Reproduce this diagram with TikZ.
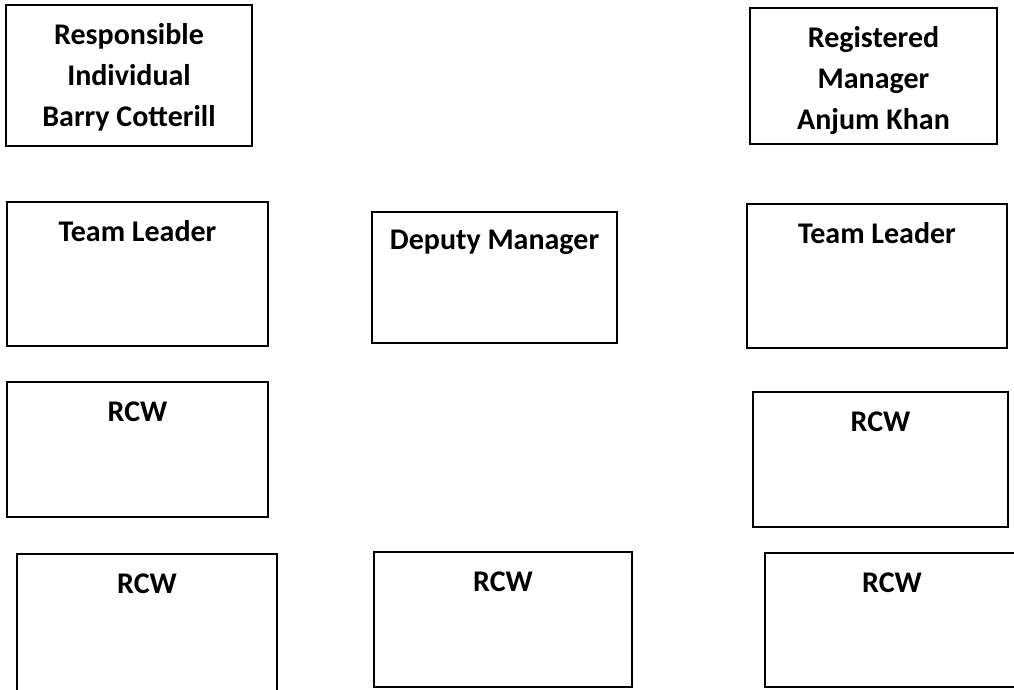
\documentclass[tikz,border=0pt]{standalone}
\usepackage{fontspec}
\setmainfont{Carlito}
\usepackage{tikz}
\usetikzlibrary{positioning}

\begin{document}
\begin{tikzpicture}[x=1pt, y=-1pt]
    \tikzstyle{box} = [draw, line width=1.6pt, rectangle, inner sep=0pt]
    \tikzstyle{title} = [inner sep=0pt, anchor=north, align=center, font=\fontsize{30}{41}\selectfont\bfseries]

    \useasboundingbox (0,0) rectangle (1014,689);
    \clip (0,0) rectangle (1014,689);

    % Boxes
    \node [box, minimum width=246pt, minimum height=141pt] (resp) at (129,75.5) {};
    \node [box, minimum width=247pt, minimum height=136pt] (regman) at (873.5,76) {};
    \node [box, minimum width=261pt, minimum height=144pt] (leader_l) at (137.5,274) {};
    \node [box, minimum width=245pt, minimum height=131pt] (deputy) at (494.5,277.5) {};
    \node [box, minimum width=260pt, minimum height=144pt] (leader_r) at (877,276) {};
    \node [box, minimum width=261pt, minimum height=135pt] (rcw_l) at (137.5,449.5) {};
    \node [box, minimum width=255pt, minimum height=135pt] (rcw_r) at (880.5,459.5) {};
    \node [box, minimum width=260pt, minimum height=140pt] (rcw_bl) at (147,624) {};
    \node [box, minimum width=258pt, minimum height=135pt] (rcw_bm) at (503,619.5) {};
    \node [box, minimum width=254pt, minimum height=134pt] (rcw_br) at (892,620) {};

    % Titles
    \node [title, below=19pt of resp.north] (resp_t) {Responsible\\Individual\\Barry Cotterill};
    \node [title, below=19pt of regman.north] (regman_t) {Registered\\Manager\\Anjum Khan};
    \node [title, below=19pt of leader_l.north] (leader_l_t) {Team Leader};
    \node [title, below=19pt of deputy.north] (deputy_t) {Deputy Manager};
    \node [title, below=19pt of leader_r.north] (leader_r_t) {Team Leader};
    \node [title, below=20pt of rcw_l.north] (rcw_l_t) {RCW};
    \node [title, below=20pt of rcw_r.north] (rcw_r_t) {RCW};
    \node [title, below=20pt of rcw_bl.north] (rcw_bl_t) {RCW};
    \node [title, below=20pt of rcw_bm.north] (rcw_bm_t) {RCW};
    \node [title, below=20pt of rcw_br.north] (rcw_br_t) {RCW};
\end{tikzpicture}
\end{document}
